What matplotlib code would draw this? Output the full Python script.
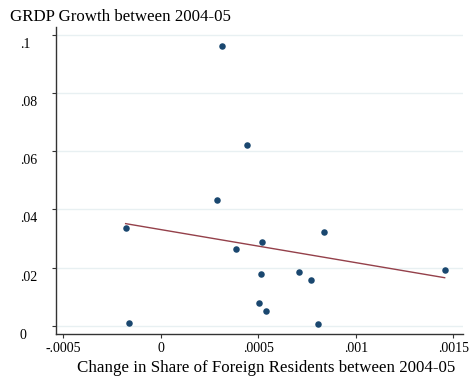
import numpy as np
import matplotlib
matplotlib.use("Agg")
import matplotlib.pyplot as plt
from matplotlib.transforms import ScaledTranslation

# Change in share of foreign residents (x) vs. GRDP growth (y), 2004-05
share_change = [0.000311, 0.000441, 0.000286, -0.000181, -0.000163, 0.000386,
                0.000516, 0.000837, 0.000511, 0.000706, 0.000771, 0.000504,
                0.000537, 0.000805, 0.001455]
grdp_growth = [0.0961, 0.0621, 0.0432, 0.0337, 0.0011, 0.0265,
               0.0287, 0.0323, 0.0177, 0.0184, 0.0157, 0.0079,
               0.0051, 0.0008, 0.0193]

x_ticks = [-0.0005, 0, 0.0005, 0.001, 0.0015]
x_tick_labels = ["-.0005", "0", ".0005", ".001", ".0015"]
y_ticks = [0, 0.02, 0.04, 0.06, 0.08, 0.1]
y_tick_labels = ["0", ".02", ".04", ".06", ".08", ".1"]

plt.rcParams["font.family"] = ["Liberation Serif", "DejaVu Serif"]

W, H = 473, 380
fig = plt.figure(figsize=(W / 100, H / 100), dpi=100)
left, right, top, bottom = 56, 463, 27, 334
ax = fig.add_axes([left / W, 1 - bottom / H, (right - left) / W, (bottom - top) / H])

x = np.array(share_change)
y = np.array(grdp_growth)

ax.set_xlim(-0.000538, 0.001549)
ax.set_ylim(-0.00274, 0.1026)

for yt in y_ticks:
    ax.axhline(yt, color="#e8f0f2", lw=1.0, zorder=0)

ax.scatter(x, y, s=22, color="#1a476f", zorder=3, linewidths=0)

slope, intercept = np.polyfit(x, y, 1)
xs = np.array([x.min(), x.max()])
ax.plot(xs, intercept + slope * xs, color="#94404a", lw=1.0, zorder=2)

for side in ("top", "right"):
    ax.spines[side].set_visible(False)
for side in ("left", "bottom"):
    ax.spines[side].set_color("#333333")
    ax.spines[side].set_linewidth(1.0)

ax.set_xticks(x_ticks)
ax.set_xticklabels(x_tick_labels, fontsize=10)
ax.set_yticks(y_ticks)
ax.set_yticklabels(y_tick_labels, fontsize=10, ha="left")
ax.tick_params(axis="x", length=3, width=0.8, color="#333333", pad=3)
ax.tick_params(axis="y", length=3, width=0.8, color="#333333", pad=23)

shift = ScaledTranslation(0, -0.08, fig.dpi_scale_trans)
for lab in ax.get_yticklabels():
    lab.set_transform(lab.get_transform() + shift)

fig.text(10 / W, 1 - 17 / H, "GRDP Growth between 2004-05", fontsize=12.2,
         ha="left", va="center")
fig.text(266 / W, 1 - 368 / H, "Change in Share of Foreign Residents between 2004-05",
         fontsize=12.2, ha="center", va="center")

fig.savefig("out.png", dpi=100, facecolor="white")
